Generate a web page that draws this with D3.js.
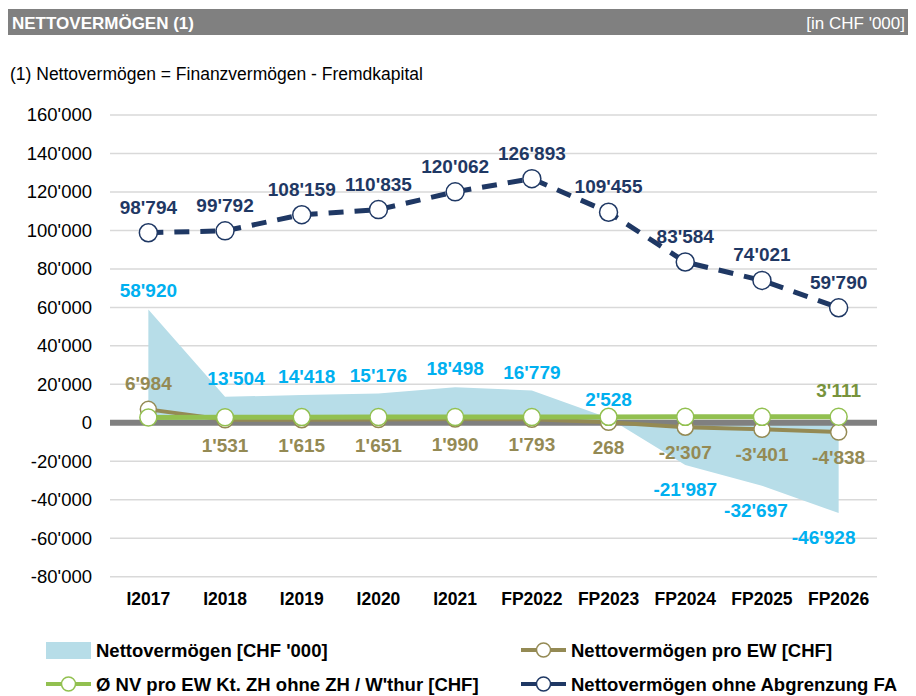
<!DOCTYPE html>
<html>
<head>
<meta charset="utf-8">
<script src="https://cdn.jsdelivr.net/npm/d3@7"></script>
<style>
  body { margin: 0; background: #fff; }
  svg { font-family: "Liberation Sans", Arial, sans-serif; }
</style>
</head>
<body>
<svg id="svg" width="916" height="696"></svg>
<script>
// DATA //

const categories = ["I2017", "I2018", "I2019", "I2020", "I2021", "FP2022", "FP2023", "FP2024", "FP2025", "FP2026"];

// Nettovermögen [CHF '000] (area)
const nettoVermoegen = [58920, 13504, 14418, 15176, 18498, 16779, 2528, -21987, -32697, -46928];

// Nettovermögen pro EW [CHF]
const proEW = [6984, 1531, 1615, 1651, 1990, 1793, 268, -2307, -3401, -4838];

// Ø NV pro EW Kt. ZH ohne ZH / W'thur [CHF] (only last value labelled)
const kantonZH = [2750, 2850, 2950, 2980, 3020, 3050, 3080, 3100, 3100, 3111];

// Nettovermögen ohne Abgrenzung FA
const ohneAbgrenzung = [98794, 99792, 108159, 110835, 120062, 126893, 109455, 83584, 74021, 59790];

const yTicks = [160000, 140000, 120000, 100000, 80000, 60000, 40000, 20000, 0, -20000, -40000, -60000, -80000];

// MAIN //

const svg = d3.select("#svg");

const colors = {
  area: "#b7dde8",
  areaLabel: "#00b0f0",
  brown: "#948a54",
  green: "#92c050",
  greenLabel: "#77933c",
  navy: "#1f3864",
  grid: "#d9d9d9",
  zero: "#808080"
};

// Swiss thousands separator
const fmt = v => {
  let s = d3.format(",")(Math.abs(v)).replace(/,/g, "'");
  return (v < 0 ? "-" : "") + s;
};

// Title bar
svg.append("rect")
  .attr("x", 8).attr("y", 9)
  .attr("width", 900).attr("height", 26)
  .attr("fill", "#808080");

svg.append("text")
  .attr("x", 12).attr("y", 28.5)
  .attr("fill", "#fff")
  .style("font-weight", "bold")
  .style("font-size", "17px")
  .text("NETTOVERMÖGEN (1)");

svg.append("text")
  .attr("x", 905).attr("y", 28.5)
  .attr("fill", "#fff")
  .attr("text-anchor", "end")
  .style("font-size", "17px")
  .text("[in CHF '000]");

svg.append("text")
  .attr("x", 10).attr("y", 80)
  .attr("fill", "#000")
  .style("font-size", "17.5px")
  .text("(1) Nettovermögen = Finanzvermögen - Fremdkapital");

// Scales
const x = d3.scaleBand().domain(categories).range([110, 877]).padding(0);
const cx = d => x(d) + x.bandwidth() / 2;
const y = d3.scaleLinear().domain([-80000, 160000]).range([576.7, 115]);

// Grid lines
svg.append("g")
  .selectAll("line")
  .data(yTicks.filter(d => d !== 0))
  .enter()
  .append("line")
  .attr("x1", 110).attr("x2", 877)
  .attr("y1", d => y(d)).attr("y2", d => y(d))
  .attr("stroke", colors.grid)
  .attr("stroke-width", 1.5);

// Y axis labels
const yAxis = d3.axisLeft(y).tickValues(yTicks).tickSize(0).tickPadding(18).tickFormat(fmt);
svg.append("g")
  .attr("transform", "translate(110,0)")
  .call(yAxis)
  .call(g => g.select(".domain").remove())
  .selectAll("text")
  .attr("fill", "#000")
  .style("font-family", "Liberation Sans, Arial, sans-serif")
  .style("font-size", "18.5px");

// Area
const area = d3.area()
  .x((d, i) => cx(categories[i]))
  .y0(y(0))
  .y1(d => y(d));

svg.append("path")
  .datum(nettoVermoegen)
  .attr("fill", colors.area)
  .attr("d", area);

// Zero line
svg.append("line")
  .attr("x1", 110).attr("x2", 877)
  .attr("y1", y(0)).attr("y2", y(0))
  .attr("stroke", colors.zero)
  .attr("stroke-width", 6);

// X axis labels
const xAxis = d3.axisBottom(x).tickSize(0).tickPadding(0);
svg.append("g")
  .attr("transform", "translate(0,593)")
  .call(xAxis)
  .call(g => g.select(".domain").remove())
  .selectAll("text")
  .attr("fill", "#000")
  .style("font-family", "Liberation Sans, Arial, sans-serif")
  .style("font-weight", "bold")
  .style("font-size", "17.5px");

// Lines
const line = d3.line().x((d, i) => cx(categories[i])).y(d => y(d));

svg.append("path")
  .datum(proEW)
  .attr("fill", "none")
  .attr("stroke", colors.brown)
  .attr("stroke-width", 4)
  .attr("d", line);

svg.append("path")
  .datum(kantonZH)
  .attr("fill", "none")
  .attr("stroke", colors.green)
  .attr("stroke-width", 5)
  .attr("d", line);

svg.append("path")
  .datum(ohneAbgrenzung)
  .attr("fill", "none")
  .attr("stroke", colors.navy)
  .attr("stroke-width", 5)
  .attr("stroke-dasharray", "15,11")
  .attr("d", line);

// Markers
function markers(data, stroke, r) {
  svg.append("g")
    .selectAll("circle")
    .data(data)
    .enter()
    .append("circle")
    .attr("cx", (d, i) => cx(categories[i]))
    .attr("cy", d => y(d))
    .attr("r", r)
    .attr("fill", "#fff")
    .attr("stroke", stroke)
    .attr("stroke-width", 1.5);
}
markers(proEW, colors.brown, 8);
markers(kantonZH, colors.green, 8.5);
markers(ohneAbgrenzung, colors.navy, 9);

// Data labels (Excel nudges a few area labels sideways)
const areaLabelShift = {1: 11, 2: 5, 8: -6, 9: -15};

function labels(data, color, dyFn, filter, dxMap) {
  svg.append("g")
    .selectAll("text")
    .data(data.map((v, i) => ({v, i})).filter(filter || (() => true)))
    .enter()
    .append("text")
    .attr("x", d => cx(categories[d.i]) + ((dxMap && dxMap[d.i]) || 0))
    .attr("y", d => y(d.v) + dyFn(d.v))
    .attr("text-anchor", "middle")
    .attr("fill", color)
    .style("font-weight", "bold")
    .style("font-size", "19px")
    .text(d => fmt(d.v));
}
labels(ohneAbgrenzung, colors.navy, () => -19);
labels(nettoVermoegen, colors.areaLabel, v => v >= 0 ? -12 : 31, null, areaLabelShift);
labels(proEW, colors.brown, v => v > 5000 ? -19 : 32);
labels(kantonZH, colors.greenLabel, () => -20, d => d.i === kantonZH.length - 1);

// Legend
const legend = svg.append("g").attr("class", "legend");
const legendItems = [
  {label: "Nettovermögen [CHF '000]", type: "area", color: colors.area, x: 46, y: 650},
  {label: "Nettovermögen pro EW [CHF]", type: "line", color: colors.brown, x: 521, y: 650},
  {label: "Ø NV pro EW Kt. ZH ohne ZH / W'thur [CHF]", type: "line", color: colors.green, x: 46, y: 684},
  {label: "Nettovermögen ohne Abgrenzung FA", type: "line", color: colors.navy, x: 521, y: 684}
];

legendItems.forEach(it => {
  const g = legend.append("g").attr("transform", `translate(${it.x},${it.y})`);
  if (it.type === "area") {
    g.append("rect").attr("x", 0).attr("y", -8).attr("width", 45).attr("height", 17).attr("fill", it.color);
  } else {
    g.append("line").attr("x1", 0).attr("x2", 45).attr("y1", 0).attr("y2", 0)
      .attr("stroke", it.color).attr("stroke-width", 4);
    g.append("circle").attr("cx", 22.5).attr("cy", 0).attr("r", 7)
      .attr("fill", "#fff").attr("stroke", it.color).attr("stroke-width", 1.5);
  }
  g.append("text")
    .attr("x", 50).attr("y", 6.5)
    .attr("fill", "#000")
    .style("font-weight", "bold")
    .style("font-size", "18.5px")
    .text(it.label);
});
</script>
</body>
</html>
